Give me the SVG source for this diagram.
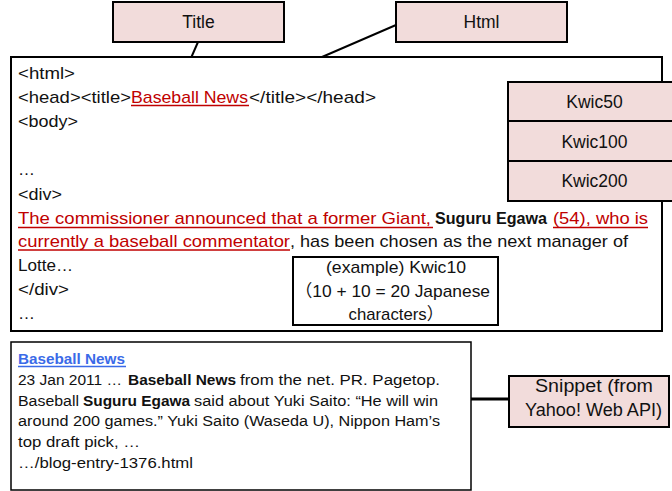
<svg xmlns="http://www.w3.org/2000/svg" width="672" height="491" viewBox="0 0 672 491">
<style>
text{font-family:"Liberation Sans","Noto Sans CJK JP",sans-serif;fill:#111}
.m{font-size:17px}
.s{font-size:15.5px}
.lb{font-size:17.5px;text-anchor:middle}
.r{fill:#c00000}
.b{font-weight:bold}
.bl{fill:#3a6ae8;font-weight:bold}
.box{fill:#fff;stroke:#000;stroke-width:2}
.pk{fill:#f2dcdb;stroke:#000;stroke-width:2}
.ul{stroke:#c00000;stroke-width:1.5}
.con{stroke:#000;stroke-width:2;fill:none}
</style>
<g id="connectors">
<line class="con" x1="198" y1="42" x2="181" y2="81"/>
<line class="con" x1="396" y1="25" x2="322" y2="57"/>
<line class="con" x1="238" y1="252" x2="293" y2="279"/>
<line class="con" x1="453" y1="399" x2="509" y2="399" style="stroke-width:3"/>
</g>
<g id="html-page">
<rect class="box" x="11" y="57" width="651" height="274"/>
<text class="m" x="18" y="79" textLength="57" lengthAdjust="spacingAndGlyphs">&lt;html&gt;</text>
<text class="m" x="18" y="103" textLength="113" lengthAdjust="spacingAndGlyphs">&lt;head&gt;&lt;title&gt;</text>
<text class="m r" x="131" y="103" textLength="117" lengthAdjust="spacingAndGlyphs">Baseball News</text>
<text class="m" x="249" y="103" textLength="127" lengthAdjust="spacingAndGlyphs">&lt;/title&gt;&lt;/head&gt;</text>
<line class="ul" x1="131" y1="105.5" x2="249" y2="105.5"/>
<text class="m" x="18" y="127" textLength="60" lengthAdjust="spacingAndGlyphs">&lt;body&gt;</text>
<text class="m" x="18" y="175">…</text>
<text class="m" x="18" y="200" textLength="44" lengthAdjust="spacingAndGlyphs">&lt;div&gt;</text>
<text class="m r" x="18" y="224" textLength="413" lengthAdjust="spacingAndGlyphs">The commissioner announced that a former Giant,</text>
<text class="m b" x="435" y="224" textLength="112" lengthAdjust="spacingAndGlyphs">Suguru Egawa</text>
<text class="m r" x="553" y="224" textLength="95" lengthAdjust="spacingAndGlyphs">(54), who is</text>
<line class="ul" x1="18" y1="227.5" x2="433" y2="227.5"/>
<line class="ul" x1="553" y1="227.5" x2="648" y2="227.5"/>
<text class="m r" x="18" y="247" textLength="272" lengthAdjust="spacingAndGlyphs">currently a baseball commentator</text>
<text class="m" x="290" y="247" textLength="338" lengthAdjust="spacingAndGlyphs">, has been chosen as the next manager of</text>
<line class="ul" x1="18" y1="250" x2="290" y2="250"/>
<text class="m" x="18" y="271" textLength="55" lengthAdjust="spacingAndGlyphs">Lotte…</text>
<text class="m" x="18" y="295" textLength="51" lengthAdjust="spacingAndGlyphs">&lt;/div&gt;</text>
<text class="m" x="18" y="319">…</text>
</g>
<g id="title">
<rect class="pk" x="113" y="2" width="171" height="40"/>
<text class="lb" x="198.5" y="28">Title</text>
</g>
<g id="html">
<rect class="pk" x="396" y="2" width="171" height="40"/>
<text class="lb" x="481.5" y="28">Html</text>
</g>
<g id="kwic50">
<rect class="pk" x="508" y="82" width="173" height="39"/>
<text class="lb" x="594.5" y="108">Kwic50</text>
</g>
<g id="kwic100">
<rect class="pk" x="508" y="121" width="173" height="40"/>
<text class="lb" x="594.5" y="148">Kwic100</text>
</g>
<g id="kwic200">
<rect class="pk" x="508" y="161" width="173" height="40"/>
<text class="lb" x="594.5" y="187">Kwic200</text>
</g>
<g id="kwic10">
<rect class="box" x="293" y="257" width="205" height="68"/>
<text class="m" x="396" y="273" text-anchor="middle" textLength="140" lengthAdjust="spacingAndGlyphs">(example) Kwic10</text>
<text class="m" x="392.5" y="297" text-anchor="middle" textLength="195" lengthAdjust="spacingAndGlyphs">（10 + 10 = 20 Japanese</text>
<text class="m" x="396" y="320" text-anchor="middle" textLength="95" lengthAdjust="spacingAndGlyphs">characters）</text>
</g>
<g id="snippet-box">
<rect class="box" x="11" y="342" width="460" height="148" style="stroke-width:1.5"/>
<text class="s bl" x="18" y="364" textLength="107" lengthAdjust="spacingAndGlyphs">Baseball News</text>
<line x1="18" y1="366.5" x2="126" y2="366.5" stroke="#3a6ae8" stroke-width="1.5"/>
<text class="s" x="18" y="385" textLength="104" lengthAdjust="spacingAndGlyphs">23 Jan 2011 …</text>
<text class="s b" x="128" y="385" textLength="108" lengthAdjust="spacingAndGlyphs">Baseball News</text>
<text class="s" x="240" y="385" textLength="200" lengthAdjust="spacingAndGlyphs">from the net. PR. Pagetop.</text>
<text class="s" x="18" y="406" textLength="61" lengthAdjust="spacingAndGlyphs">Baseball</text>
<text class="s b" x="83" y="406" textLength="107" lengthAdjust="spacingAndGlyphs">Suguru Egawa</text>
<text class="s" x="194" y="406" textLength="244" lengthAdjust="spacingAndGlyphs">said about Yuki Saito: “He will win</text>
<text class="s" x="18" y="426" textLength="422" lengthAdjust="spacingAndGlyphs">around 200 games.” Yuki Saito (Waseda U), Nippon Ham’s</text>
<text class="s" x="18" y="447" textLength="122" lengthAdjust="spacingAndGlyphs">top draft pick, …</text>
<text class="s" x="18" y="468" textLength="175" lengthAdjust="spacingAndGlyphs">…/blog-entry-1376.html</text>
</g>
<g id="snippet">
<rect class="pk" x="509" y="376" width="160" height="51"/>
<text class="lb" x="594" y="392" textLength="118" lengthAdjust="spacingAndGlyphs">Snippet (from</text>
<text class="lb" x="593.5" y="416" textLength="137" lengthAdjust="spacingAndGlyphs">Yahoo! Web API)</text>
</g>
</svg>
